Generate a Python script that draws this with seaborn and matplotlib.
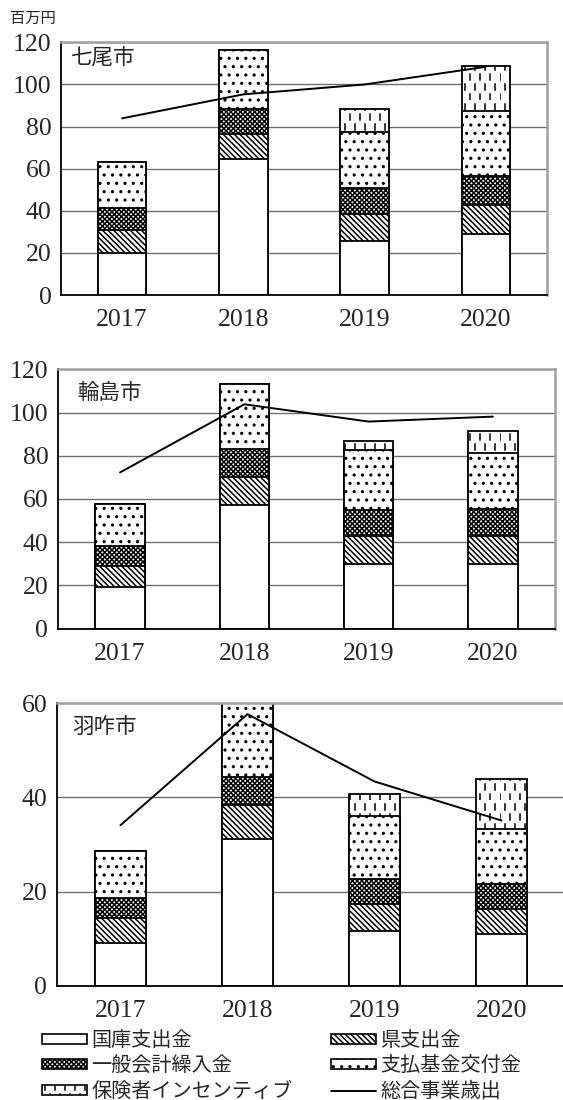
import numpy as np
import matplotlib
matplotlib.use("Agg")
import matplotlib.pyplot as plt
from matplotlib import hatch as mhatch
from matplotlib.path import Path
from matplotlib.patches import Patch
from matplotlib.lines import Line2D
from matplotlib.ticker import FixedLocator
import seaborn as sns

# ---------------------------------------------------------------- data
years = ["2017", "2018", "2019", "2020"]
series_names = ["国庫支出金", "県支出金", "一般会計繰入金", "支払基金交付金", "保険者インセンティブ"]
line_name = "総合事業歳出"
unit_label = "百万円"

# 七尾市
nanao_kokko = [20.1, 64.4, 25.8, 28.8]
nanao_ken = [10.8, 12.1, 12.5, 13.9]
nanao_ippan = [10.3, 12.0, 12.7, 14.0]
nanao_shiharai = [21.8, 27.9, 26.6, 30.8]
nanao_incentive = [0.0, 0.0, 10.6, 21.3]
nanao_total = [83.9, 95.3, 100.0, 108.4]

# 輪島市
wajima_kokko = [19.4, 57.2, 29.9, 29.9]
wajima_ken = [9.6, 13.0, 13.0, 13.0]
wajima_ippan = [9.3, 13.1, 12.0, 12.3]
wajima_shiharai = [19.5, 29.9, 27.8, 25.9]
wajima_incentive = [0.0, 0.0, 4.1, 10.4]
wajima_total = [72.3, 103.8, 95.8, 98.1]

# 羽咋市
hakui_kokko = [9.1, 31.1, 11.7, 11.0]
hakui_ken = [5.2, 7.2, 5.7, 5.3]
hakui_ippan = [4.4, 6.0, 5.3, 5.3]
hakui_shiharai = [9.9, 15.7, 13.4, 11.6]
hakui_incentive = [0.0, 0.0, 4.6, 10.7]
hakui_total = [34.1, 57.7, 43.4, 35.1]

# ---------------------------------------------------------------- custom hatch: staggered short vertical dashes ('O')
class DashHatch(mhatch.HatchPatternBase):
    def __init__(self, hatch, density):
        n = hatch.count("O")
        self.ncols = int(n * density * 5 / 3)
        self.nrows = int(n * density * 5 / 3)
        self.num_vertices = self.ncols * self.nrows * 2

    def set_vertices_and_codes(self, vertices, codes):
        k = 0
        for r in range(self.nrows):
            y0 = r / self.nrows
            shift = 0.5 if r % 2 else 0.0
            for c in range(self.ncols):
                x = (c + shift) / self.ncols
                vertices[k] = (x, y0)
                vertices[k + 1] = (x, y0 + 0.6 / self.nrows)
                codes[k] = Path.MOVETO
                codes[k + 1] = Path.LINETO
                k += 2


mhatch._hatch_types = [t for t in mhatch._hatch_types if t is not mhatch.LargeCircles] + [DashHatch]

hatches = ["", "\\" * 6, "x" * 7, "..", "O"]

# ---------------------------------------------------------------- style
sns.set_style("white")
plt.rcParams["font.family"] = ["Liberation Serif", "Noto Sans CJK JP"]
plt.rcParams["hatch.color"] = "black"
plt.rcParams["hatch.linewidth"] = 1.1
JP = ["Noto Sans CJK JP", "DejaVu Sans"]

fig = plt.figure(figsize=(5.63, 11), dpi=100)

panels = [
    ("七尾市", [nanao_kokko, nanao_ken, nanao_ippan, nanao_shiharai, nanao_incentive], nanao_total, 120,
     [0.1091, 0.7318, 0.8618, 0.2297], (0.02, 0.937)),
    ("輪島市", [wajima_kokko, wajima_ken, wajima_ippan, wajima_shiharai, wajima_incentive], wajima_total, 120,
     [0.1030, 0.4285, 0.8828, 0.2358], (0.038, 0.908)),
    ("羽咋市", [hakui_kokko, hakui_ken, hakui_ippan, hakui_shiharai, hakui_incentive], hakui_total, 60,
     [0.1012, 0.1039, 0.9023, 0.2567], (0.03, 0.915)),
]

for city, parts, total, ymax, rect, title_pos in panels:
    ax = fig.add_axes(rect)
    stacks = np.cumsum(np.array(parts), axis=0)
    # draw cumulative heights from the top segment downward so each lower bar overlays the rest
    for i in range(len(series_names) - 1, -1, -1):
        sns.barplot(x=years, y=stacks[i], ax=ax, color="white", saturation=1,
                    edgecolor="black", linewidth=1.3, hatch=hatches[i],
                    width=0.4, errorbar=None, zorder=2)
    sns.pointplot(x=years, y=total, ax=ax, color="black", markers="", linestyles="-",
                  linewidth=1.4, errorbar=None, zorder=5)

    ax.set_xlim(-0.5, 3.5)
    ax.set_ylim(0, ymax)
    ax.set_yticks(np.arange(0, ymax + 1, 20))
    ax.yaxis.grid(True, color="#6e6e6e", linewidth=1.0)
    ax.xaxis.grid(False)
    ax.set_axisbelow(True)
    ax.set_xlabel("")
    ax.set_ylabel("")

    ax.xaxis.set_minor_locator(FixedLocator([0.5, 1.5, 2.5]))
    ax.tick_params(axis="x", which="major", length=0, pad=10, labelsize=18.5)
    ax.tick_params(axis="x", which="minor", direction="in", length=5, width=1, color="#666666")
    ax.tick_params(axis="y", length=0, pad=7, labelsize=18.5)

    for side in ("left", "bottom"):
        ax.spines[side].set_color("black")
        ax.spines[side].set_linewidth(1.3)
    for side in ("top", "right"):
        ax.spines[side].set_color("#a0a0a0")
        ax.spines[side].set_linewidth(1.8)
    for s in ax.spines.values():
        s.set_zorder(6)

    ax.text(title_pos[0], title_pos[1], city, transform=ax.transAxes, fontsize=15.5,
            ha="left", va="center", family=JP, zorder=7)

fig.text(10 / 563, 1 - 18 / 1100, unit_label, fontsize=11, ha="left", va="center", family=JP)

# ---------------------------------------------------------------- legend
patch_handles = [Patch(facecolor="white", edgecolor="black", hatch=h, linewidth=1.2) for h in hatches]
line_handle = Line2D([], [], color="black", linewidth=1.4)
handles = [patch_handles[0], patch_handles[2], patch_handles[4],
           patch_handles[1], patch_handles[3], line_handle]
labels = [series_names[0], series_names[2], series_names[4],
          series_names[1], series_names[3], line_name]
leg = fig.legend(handles, labels, ncol=2, loc="upper left",
                 bbox_to_anchor=(42 / 563, 1 - 1030 / 1100), frameon=False,
                 prop={"family": JP, "size": 14.5}, handlelength=2.25, handleheight=0.4,
                 handletextpad=0.2, labelspacing=0.22, columnspacing=1.9,
                 borderaxespad=0, borderpad=0)

fig.savefig("out.png", dpi=100)
